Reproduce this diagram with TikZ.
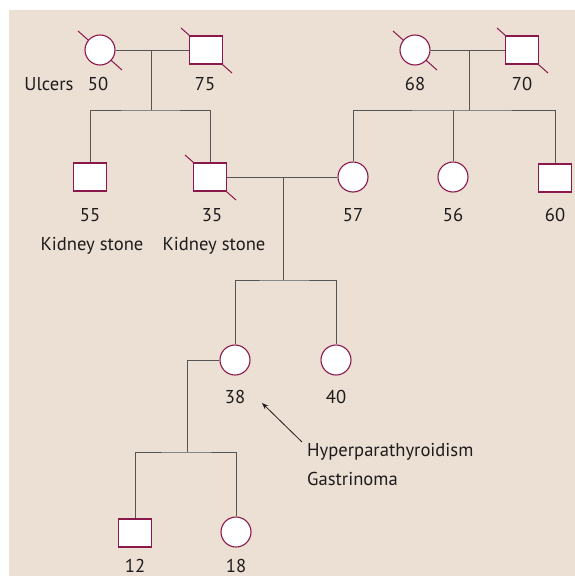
\documentclass[tikz,border=0pt]{standalone}
\usepackage{fontspec}
\setmainfont{PT Sans}
\usetikzlibrary{arrows.meta,positioning,backgrounds}
\definecolor{pedbg}{RGB}{236,224,212}
\definecolor{pedline}{RGB}{139,24,74}
\definecolor{pedgray}{RGB}{85,85,85}
\definecolor{pedtext}{RGB}{30,27,28}

\begin{document}
\begin{tikzpicture}[x=1pt, y=-1pt, >=Stealth,
  female/.style={circle, draw=pedline, fill=white, line width=1.1pt, minimum size=30pt, inner sep=0pt},
  male/.style={rectangle, draw=pedline, fill=white, line width=1.1pt, minimum width=33pt, minimum height=28pt, inner sep=0pt},
  kin/.style={pedgray, line width=1pt},
  slash/.style={pedline, line width=1pt},
  lbl/.style={text=pedtext, font=\fontsize{18.6}{22}\selectfont, inner sep=0pt, anchor=base}]
  \useasboundingbox (0,0) rectangle (575,576);
  % Grandparents
  \node[female] (g50) at (100,50) {};
  \node[male]   (g75) at (206,50) {};
  \node[female] (g68) at (415,50) {};
  \node[male]   (g70) at (522,50) {};
  % Parents
  \node[male]   (p55) at (90,177) {};
  \node[male]   (p35) at (210,177) {};
  \node[female] (p57) at (353,177) {};
  \node[female] (p56) at (453,177) {};
  \node[male]   (p60) at (555,178) {};
  % Children
  \node[female] (c38) at (235,360) {};
  \node[female] (c40) at (336,360) {};
  % Grandchildren
  \node[male]   (k12) at (135,533) {};
  \node[female] (k18) at (236,532) {};
  % Line coordinates
  \coordinate (u1) at (151,50);
  \coordinate (b1) at (151,110);
  \coordinate (u2) at (469,50);
  \coordinate (b2) at (469,110);
  \coordinate (u3) at (283,177);
  \coordinate (b3) at (283,280);
  \coordinate (u4) at (187,360);
  \coordinate (b4) at (187,452);
  % Mating and sibship lines
  \draw[kin] (g50) -- (g75);
  \draw[kin] (u1) -- (b1);
  \draw[kin] (p55) |- (b1) -| (p35);
  \draw[kin] (g68) -- (g70);
  \draw[kin] (u2) -- (b2);
  \draw[kin] (p57) |- (b2) -| (p60);
  \draw[kin] (p56) -- (p56 |- b2);
  \draw[kin] (p35) -- (p57);
  \draw[kin] (u3) -- (b3);
  \draw[kin] (c38) |- (b3) -| (c40);
  \draw[kin] (c38) -- (u4) -- (b4);
  \draw[kin] (k12) |- (b4) -| (k18);
  % Labels
  \node[lbl] (t50) at (49,90) {Ulcers};
  \node[lbl] (l50) at (98,90) {50};
  \node[lbl] (l75) at (205,90) {75};
  \node[lbl] (l68) at (415,90) {68};
  \node[lbl] (l70) at (522,90) {70};
  \node[lbl] (l55) at (90,221) {55};
  \node[lbl] (l35) at (212,221) {35};
  \node[lbl] (l57) at (353,221) {57};
  \node[lbl] (l56) at (453,221) {56};
  \node[lbl] (l60) at (555,221) {60};
  \node[lbl] (t55) at (92,250) {Kidney stone};
  \node[lbl] (t35) at (214,250) {Kidney stone};
  \node[lbl] (l38) at (235,403) {38};
  \node[lbl] (l40) at (336,403) {40};
  \node[lbl] (l12) at (135,572) {12};
  \node[lbl] (l18) at (236,572) {18};
  \node[lbl, anchor=base west] (n1) at (307,456) {Hyperparathyroidism};
  \node[lbl, anchor=base west] (n2) at (307,485) {Gastrinoma};
  % Arrow to the proband
  \coordinate (a0) at (302,442);
  \coordinate (a1) at (262,403);
  \draw[->, pedtext, line width=0.8pt] (a0) -- (a1);
  % Background and deceased marks
  \begin{pgfonlayer}{background}
    \fill[white] (0,0) rectangle (575,576);
    \fill[pedbg] (9,10) rectangle (575,576);
    \foreach \n in {g50,g68}
      \draw[slash] (\n.center) ++(-22,-19) -- ++(44,39);
    \foreach \n in {g75,g70,p35}
      \draw[slash] (\n.center) ++(-25,-22) -- ++(51,45);
  \end{pgfonlayer}
\end{tikzpicture}
\end{document}
